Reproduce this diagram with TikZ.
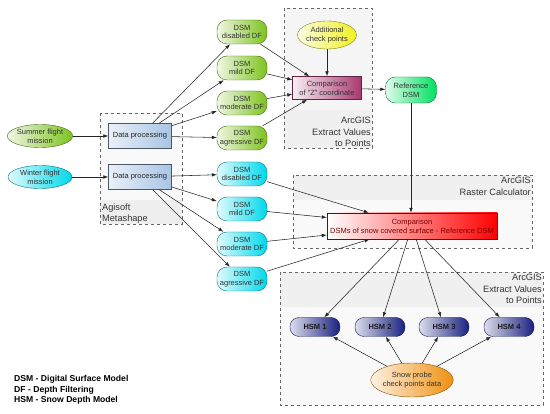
\documentclass[tikz,border=0pt]{standalone}
\usepackage{fontspec}
\setmainfont{Liberation Sans}
\usetikzlibrary{arrows.meta,shapes.geometric,positioning}
\definecolor{dsmgreen}{HTML}{7DC21E}
\definecolor{dsmcyan}{HTML}{00D8EC}
\definecolor{refgreen}{HTML}{00E060}
\definecolor{chkyellow}{HTML}{F0F020}
\definecolor{cmpviolet}{HTML}{A8386E}
\definecolor{procblue}{HTML}{A8C4E4}
\definecolor{hsmnavy}{HTML}{1A2080}
\definecolor{probeorange}{HTML}{F09010}
\definecolor{boxgray}{HTML}{666666}

\begin{document}
\begin{tikzpicture}[x=1pt, y=-1pt,
  every node/.style={font=\fontsize{7.5}{8.8}\selectfont, align=center, inner sep=0pt},
  flow/.style={-{Latex[length=5pt,width=3.6pt]}, black!85, line width=0.55pt},
  pill/.style={rectangle, rounded corners=10pt, draw=#1!55!black, left color=#1!12!white,
    right color=#1, minimum width=50pt, minimum height=24pt, text=black!80},
  oval/.style={ellipse, draw=#1!55!black, left color=#1!12!white, right color=#1,
    text=black!80},
  procbox/.style={rectangle, draw=procblue!45!black, left color=procblue!25!white,
    right color=procblue, minimum width=63pt, minimum height=25pt, text=black!85},
  hsm/.style={rectangle, rounded corners=9pt, draw=hsmnavy!70!black, left color=hsmnavy!15!white,
    right color=hsmnavy, minimum width=50pt, minimum height=19pt,
    font=\fontsize{7.5}{8.8}\selectfont\bfseries, text=black!90},
  boxline/.style={draw=boxgray, dashed, line width=0.6pt},
  boxlabel/.style={font=\fontsize{9.2}{11.5}\selectfont, text=black!80}
]
  \useasboundingbox (0,0) rectangle (550,414);

  % dashed tool boxes
  \fill[gray!5] (100,113) rectangle (182,224);
  \fill[gray!13] (100,200) rectangle (182,224);
  \draw[boxline] (100,113) rectangle (182,224);
  \node[boxlabel, anchor=south west, align=left] (agisoft) at (102,224) {Agisoft\\Metashape};

  \fill[gray!8] (284,8) rectangle (372,148);
  \fill[gray!12] (284,110) rectangle (372,148);
  \draw[boxline] (284,8) rectangle (372,148);
  \node[boxlabel, anchor=south east, align=right] (arcextA) at (371,147) {ArcGIS\\Extract Values\\to Points};

  \fill[gray!5] (293,175) rectangle (532,248);
  \fill[gray!12] (293,175) rectangle (532,200);
  \draw[boxline] (293,175) rectangle (532,248);
  \node[boxlabel, anchor=north east, align=right] (arcraster) at (531,177) {ArcGIS\\Raster Calculator};

  \fill[gray!5] (280,272) rectangle (543,405);
  \fill[gray!12] (280,272) rectangle (543,307);
  \draw[boxline] (280,272) rectangle (543,405);
  \node[boxlabel, anchor=north east, align=right] (arcextB) at (542,274) {ArcGIS\\Extract Values\\to Points};

  % flight missions and processing
  \node[oval=dsmgreen, minimum width=64pt, minimum height=23pt] (summer) at (40,136) {Summer flight\\mission};
  \node[oval=dsmcyan, minimum width=64pt, minimum height=23pt] (winter) at (40,177) {Winter flight\\mission};
  \node[procbox] (procS) at (140,136) {Data processing};
  \node[procbox] (procW) at (140,177) {Data processing};

  % DSM variants
  \node[pill=dsmgreen] (sDis) at (242,32) {DSM\\disabled DF};
  \node[pill=dsmgreen] (sMil) at (242,68) {DSM\\mild DF};
  \node[pill=dsmgreen] (sMod) at (242,103) {DSM\\moderate DF};
  \node[pill=dsmgreen] (sAgr) at (242,138) {DSM\\agressive DF};
  \node[pill=dsmcyan] (wDis) at (242,174) {DSM\\disabled DF};
  \node[pill=dsmcyan] (wMil) at (242,209) {DSM\\mild DF};
  \node[pill=dsmcyan] (wMod) at (242,244) {DSM\\moderate DF};
  \node[pill=dsmcyan] (wAgr) at (242,279) {DSM\\agressive DF};

  % reference DSM branch
  \node[oval=chkyellow, minimum width=57pt, minimum height=28pt] (addchk) at (327,35) {Additional\\check points};
  \node[rectangle, draw=cmpviolet!60!black, left color=cmpviolet!8!white, right color=cmpviolet,
    minimum width=69pt, minimum height=23pt, text=black!80] (cmpZ) at (327,88) {Comparison\\of "Z" coordinate};
  \node[pill=refgreen, minimum width=51pt, minimum height=26pt] (refdsm) at (411,90) {Reference\\DSM};

  % snow depth branch
  \node[rectangle, draw=red!50!black, left color=white, right color=red,
    minimum width=170pt, minimum height=26pt, text=red!50!black] (cmpR) at (412,226)
    {Comparison\\DSMs of snow covered surface - Reference DSM};
  \node[hsm] (hsmA) at (315,327) {HSM 1};
  \node[hsm] (hsmB) at (380,327) {HSM 2};
  \node[hsm] (hsmC) at (444,327) {HSM 3};
  \node[hsm] (hsmD) at (509,327) {HSM 4};
  \node[oval=probeorange, minimum width=75pt, minimum height=34pt] (probe) at (412,380) {Snow probe\\check points data};

  % legend
  \node[anchor=north west, align=left, font=\fontsize{8.6}{10.6}\selectfont\bfseries] (legend) at (14,375)
    {DSM - Digital Surface Model\\DF - Depth Filtering\\HSM - Snow Depth Model};

  % connectors
  \draw[flow] (summer) -- (procS);
  \draw[flow] (winter) -- (procW);
  \foreach \t in {sDis,sMil,sMod,sAgr} {
    \draw[flow] (procS) -- (\t);
    \draw[flow] (\t) -- (cmpZ);
  }
  \foreach \t in {wDis,wMil,wMod,wAgr} {
    \draw[flow] (procW) -- (\t);
    \draw[flow] (\t) -- (cmpR);
  }
  \draw[flow] (addchk) -- (cmpZ);
  \draw[flow] (cmpZ) -- (refdsm);
  \draw[flow] (refdsm) -- (refdsm |- cmpR.north);
  \foreach \h in {hsmA,hsmB,hsmC,hsmD} {
    \draw[flow] (cmpR) -- (\h);
    \draw[flow] (probe) -- (\h);
  }
\end{tikzpicture}
\end{document}
